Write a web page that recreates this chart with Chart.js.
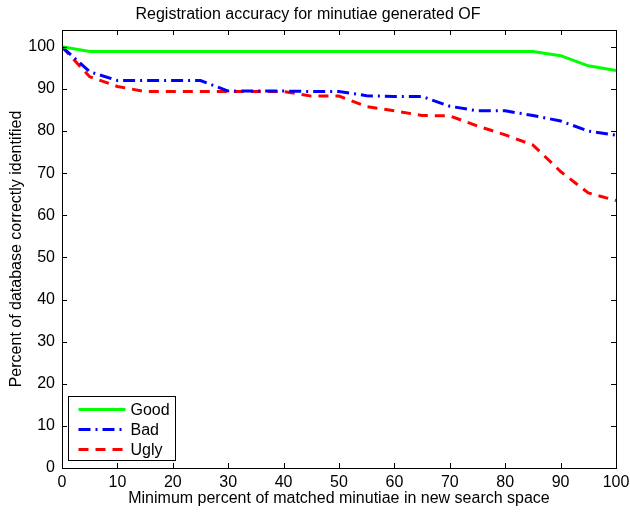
<!DOCTYPE html>
<html>
<head>
<meta charset="utf-8">
<title>Registration accuracy for minutiae generated OF</title>
<script src="https://cdn.jsdelivr.net/npm/chart.js@4.4.1/dist/chart.umd.min.js"></script>
<style>
    html, body { margin: 0; padding: 0; background: #fff; }
    #wrap { width: 630px; height: 517px; }
</style>
</head>
<body>
<div id="wrap"><canvas id="accuracyChart" width="630" height="517"></canvas></div>
<script>
'use strict'

/**
 * Data
 */

let minMatched = [0, 5, 10, 15, 20, 25, 30, 35, 40, 45, 50, 55, 60, 65, 70, 75, 80, 85, 90, 95, 100];
let good = [100, 98.9, 98.9, 98.9, 98.9, 98.9, 98.9, 98.9, 98.9, 98.9, 98.9, 98.9, 98.9, 98.9, 98.9, 98.9, 98.9, 98.9, 97.9, 95.5, 94.4];
let bad = [100, 94.1, 92, 92, 92, 92, 89.5, 89.5, 89.5, 89.4, 89.4, 88.4, 88.2, 88.2, 85.9, 84.8, 84.8, 83.7, 82.4, 80, 79];
let ugly = [100, 92.9, 90.6, 89.4, 89.4, 89.4, 89.4, 89.4, 89.4, 88.3, 88.3, 85.8, 84.8, 83.7, 83.6, 81.2, 79.1, 76.7, 70.4, 65.3, 63.5];
let xTicks = [0, 10, 20, 30, 40, 50, 60, 70, 80, 90, 100];
let yTicks = [0, 10, 20, 30, 40, 50, 60, 70, 80, 90, 100];

const FONT = '"Liberation Sans", Arial, Helvetica, sans-serif';

function toPoints(values) {
    return values.map(function (v, i) {
        return { x: minMatched[i], y: v };
    });
}

/**
 * Box with inward ticks on all four sides
 */

let boxTicks = {
    id: 'boxTicks',
    afterDatasetsDraw: function (chart) {
        let ctx = chart.ctx;
        let a = chart.chartArea;
        let xs = chart.scales.x;
        let ys = chart.scales.y;
        let len = 5;
        ctx.save();
        ctx.strokeStyle = '#000';
        ctx.lineWidth = 1;
        ctx.beginPath();
        xs.ticks.forEach(function (t) {
            let px = Math.round(xs.getPixelForValue(t.value)) + 0.5;
            ctx.moveTo(px, a.bottom);
            ctx.lineTo(px, a.bottom - len);
            ctx.moveTo(px, a.top);
            ctx.lineTo(px, a.top + len);
        });
        ys.ticks.forEach(function (t) {
            let py = Math.round(ys.getPixelForValue(t.value)) + 0.5;
            ctx.moveTo(a.left, py);
            ctx.lineTo(a.left + len, py);
            ctx.moveTo(a.right, py);
            ctx.lineTo(a.right - len, py);
        });
        ctx.stroke();
        ctx.strokeRect(Math.round(a.left) + 0.5, Math.round(a.top) + 0.5,
            Math.round(a.right - a.left), Math.round(a.bottom - a.top));
        ctx.restore();
    }
};

/**
 * Legend drawn inside the plot, lower left
 */

let innerLegend = {
    id: 'innerLegend',
    afterDraw: function (chart) {
        let ctx = chart.ctx;
        let a = chart.chartArea;
        let left = Math.round(a.left) + 6.5;
        let top = Math.round(a.bottom) - 71.5;
        let w = 107, h = 64;
        ctx.save();
        ctx.fillStyle = '#fff';
        ctx.fillRect(left, top, w, h);
        ctx.strokeStyle = '#000';
        ctx.lineWidth = 1;
        ctx.strokeRect(left, top, w, h);
        ctx.font = '16px ' + FONT;
        ctx.textBaseline = 'middle';
        chart.data.datasets.forEach(function (ds, i) {
            let rowY = top + 13 + i * 20;
            ctx.beginPath();
            ctx.strokeStyle = ds.borderColor;
            ctx.lineWidth = ds.borderWidth;
            ctx.setLineDash(ds.borderDash || []);
            ctx.moveTo(left + 10, rowY);
            ctx.lineTo(left + 57, rowY);
            ctx.stroke();
            ctx.setLineDash([]);
            ctx.fillStyle = '#000';
            ctx.fillText(ds.label, left + 62, rowY + 1);
        });
        ctx.restore();
    }
};

/**
 * Chart
 */

let ctx = document.getElementById('accuracyChart');
let accuracyChart = new Chart(ctx, {
    type: 'line',
    data: {
        datasets: [{
            label: 'Good',
            data: toPoints(good),
            borderColor: '#00ff00',
            borderWidth: 3,
            pointRadius: 0,
            tension: 0
        }, {
            label: 'Bad',
            data: toPoints(bad),
            borderColor: '#0000ff',
            borderWidth: 3,
            borderDash: [12, 5, 2, 5],
            pointRadius: 0,
            tension: 0
        }, {
            label: 'Ugly',
            data: toPoints(ugly),
            borderColor: '#ff0000',
            borderWidth: 3,
            borderDash: [10, 7],
            pointRadius: 0,
            tension: 0
        }]
    },
    options: {
        responsive: false,
        animation: false,
        devicePixelRatio: 1,
        layout: { padding: { left: 0, right: 14, top: 0, bottom: 0 } },
        plugins: {
            legend: { display: false },
            tooltip: { enabled: false },
            title: {
                display: true,
                text: 'Registration accuracy for minutiae generated OF',
                color: '#000',
                font: { family: FONT, size: 16, weight: 'normal' },
                padding: { top: 5.2, bottom: 5.6 }
            }
        },
        scales: {
            x: {
                type: 'linear',
                min: 0,
                max: 100,
                afterBuildTicks: function (scale) {
                    scale.ticks = xTicks.map(function (v) { return { value: v }; });
                },
                afterFit: function (scale) {
                    scale.height = 49;
                    scale.paddingLeft = 0;
                    scale.paddingRight = 0;
                },
                grid: { display: false, drawTicks: false },
                border: { display: false },
                ticks: {
                    color: '#000',
                    padding: 5,
                    maxRotation: 0,
                    autoSkip: false,
                    font: { family: FONT, size: 16 }
                },
                title: {
                    display: true,
                    text: 'Minimum percent of matched minutiae in new search space',
                    color: '#000',
                    font: { family: FONT, size: 16 },
                    padding: { top: 0, bottom: 8.4 }
                }
            },
            y: {
                type: 'linear',
                min: 0,
                max: 104,
                afterBuildTicks: function (scale) {
                    scale.ticks = yTicks.map(function (v) { return { value: v }; });
                },
                afterFit: function (scale) { scale.width = 62; },
                grid: { display: false, drawTicks: false },
                border: { display: false },
                ticks: {
                    color: '#000',
                    padding: 7,
                    autoSkip: false,
                    font: { family: FONT, size: 16 }
                },
                title: {
                    display: true,
                    text: 'Percent of database correctly identified',
                    color: '#000',
                    font: { family: FONT, size: 16 },
                    padding: { top: 7, bottom: 0 }
                }
            }
        }
    },
    plugins: [boxTicks, innerLegend]
});
</script>
</body>
</html>
